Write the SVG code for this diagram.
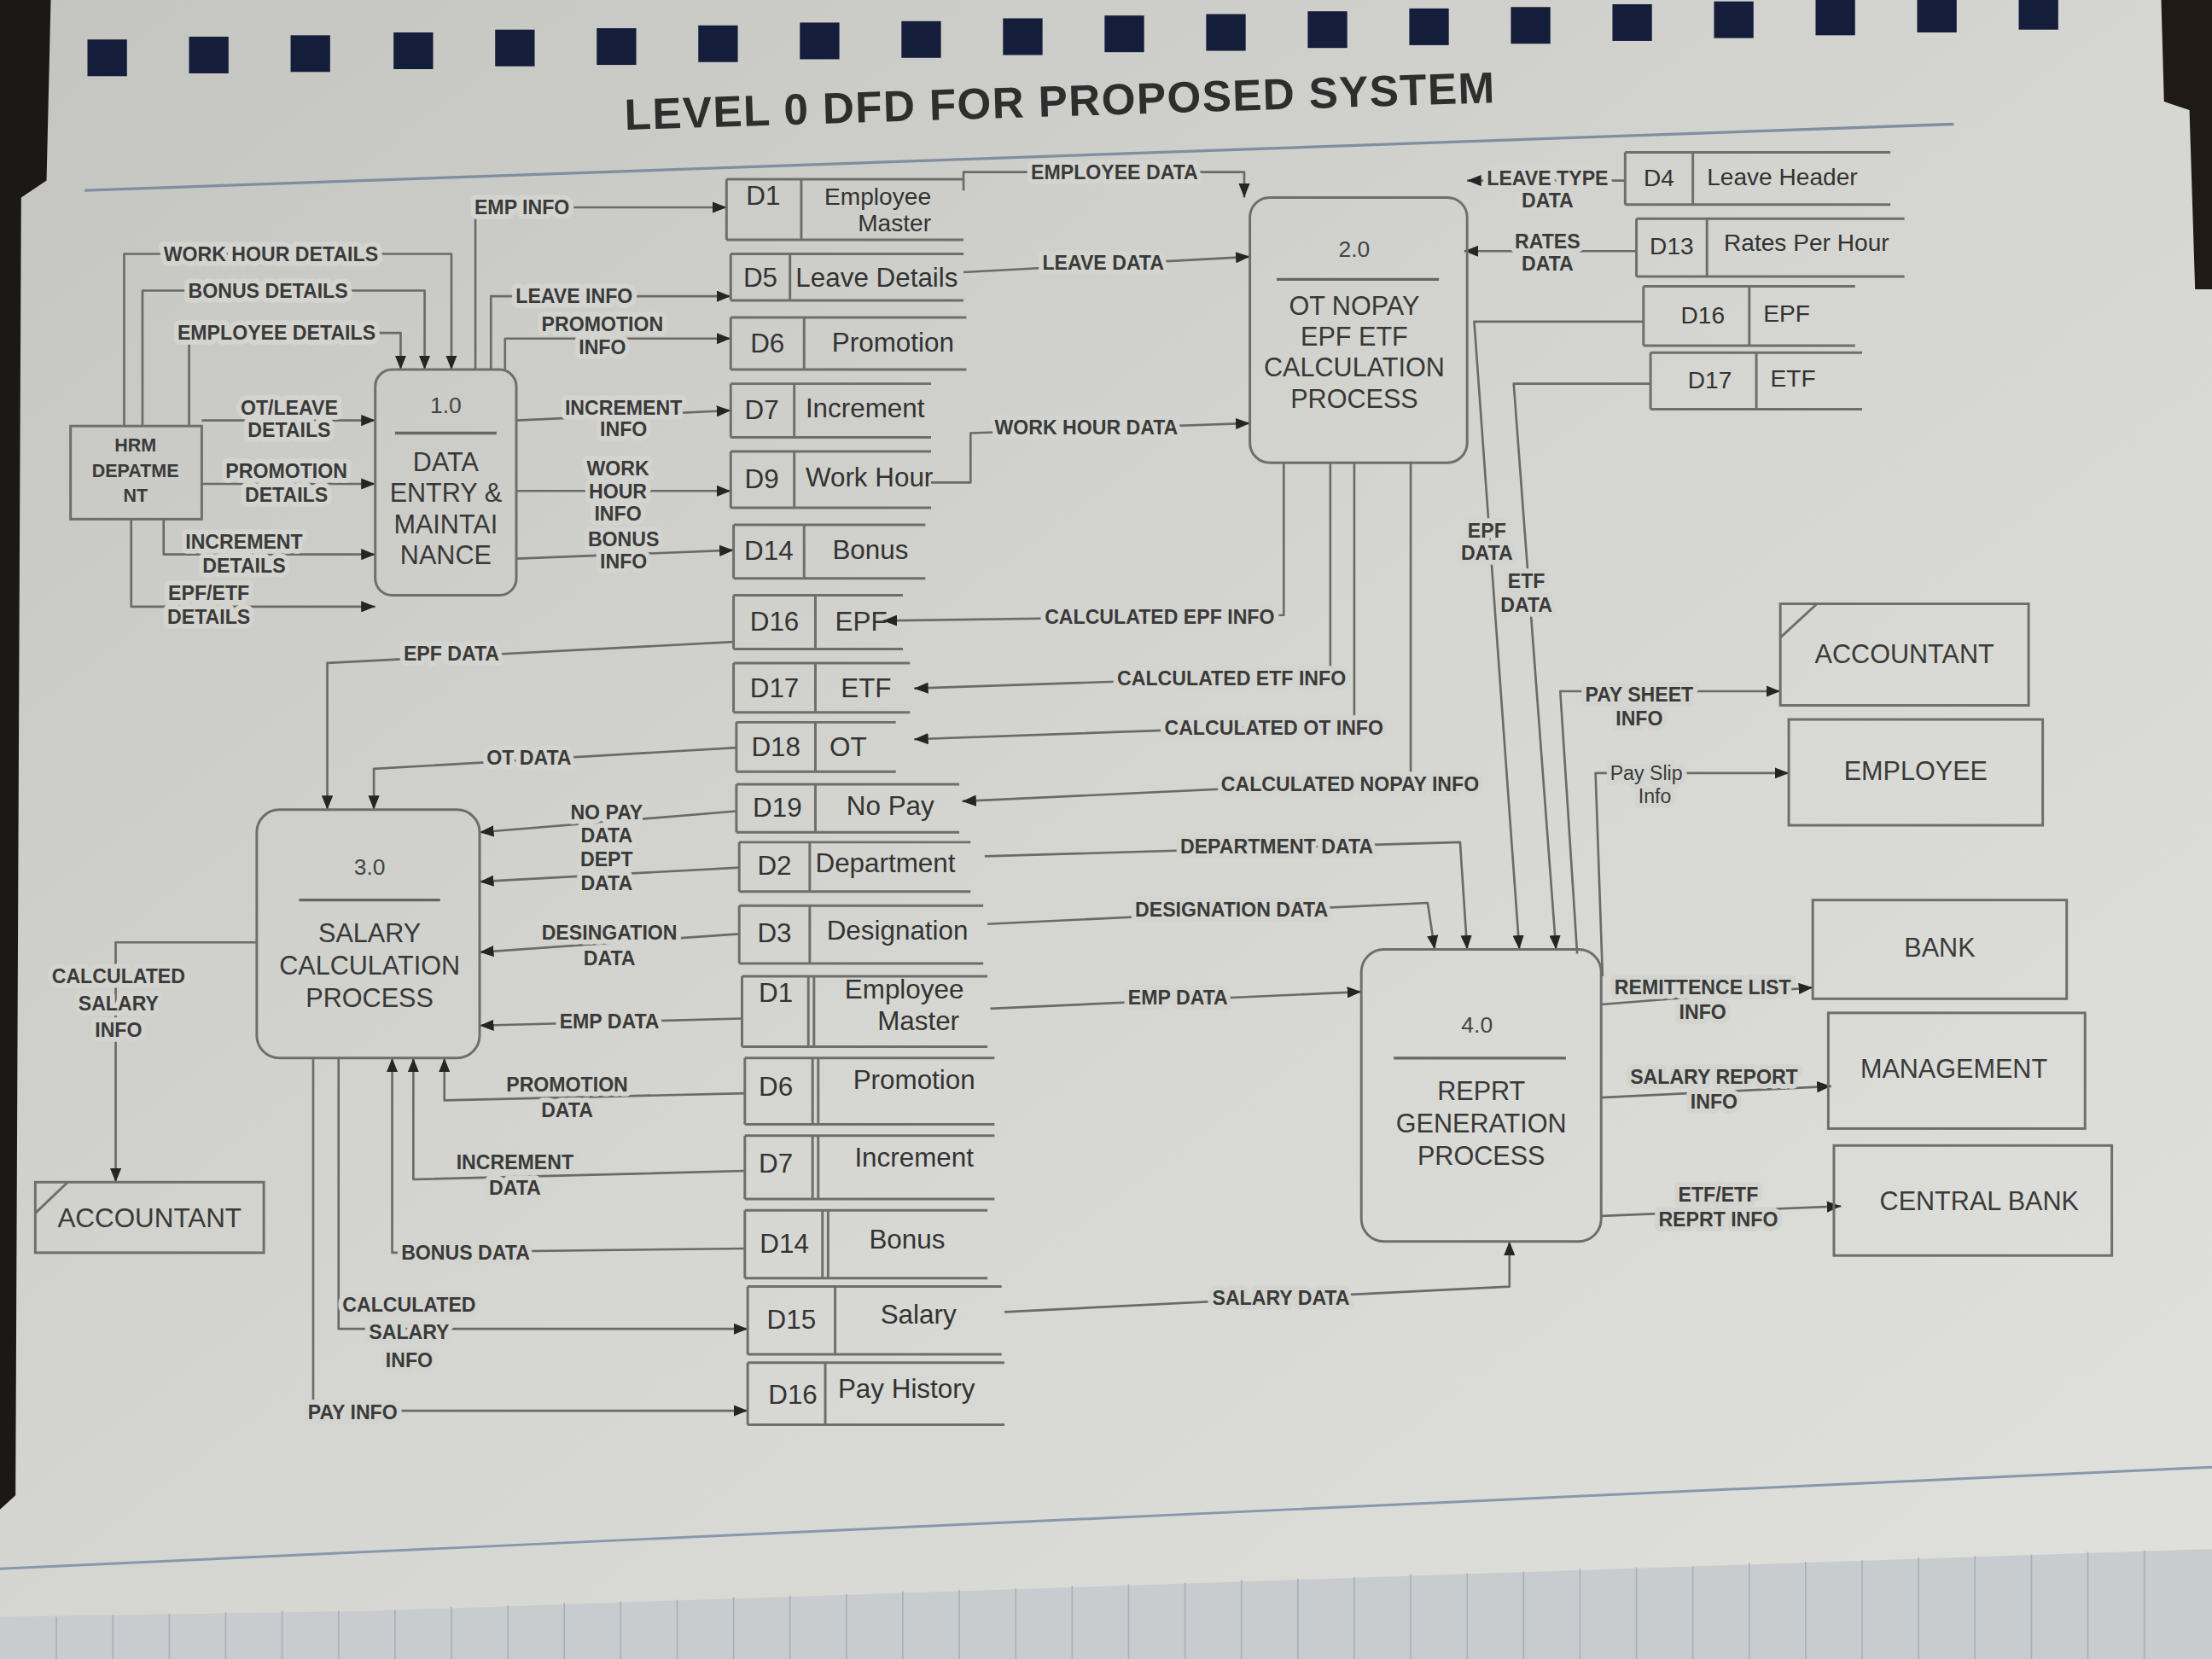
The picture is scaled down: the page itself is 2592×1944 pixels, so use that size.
<svg xmlns="http://www.w3.org/2000/svg" width="2592" height="1944" viewBox="0 0 2592 1944">
  <defs>
    <style>
      .ln { fill: none; stroke: #6a6a6a; stroke-width: 1.6; stroke-linejoin: round; }
      .bx { fill: none; stroke: #6e6e6e; stroke-width: 1.8; }
      .st { fill: none; stroke: #6e6e6e; stroke-width: 1.8; }
      .lbl { font-family: "Liberation Sans", Arial, sans-serif; font-size: 14px; font-weight: bold; fill: #3a3a3a; text-anchor: middle; stroke: #d3d4cf; stroke-width: 7; paint-order: stroke; stroke-linejoin: round; }
      .lbln { font-weight: normal; }
      .sid { font-family: "Liberation Sans", Arial, sans-serif; font-size: 19px; fill: #333; text-anchor: middle; }
      .snm { font-family: "Liberation Sans", Arial, sans-serif; font-size: 19px; fill: #333; }
      .rs { font-size: 17px; }
      .pn { font-family: "Liberation Sans", Arial, sans-serif; font-size: 16px; fill: #444; text-anchor: middle; }
      .pt { font-family: "Liberation Sans", Arial, sans-serif; font-size: 18.5px; fill: #383838; text-anchor: middle; }
      .et { font-family: "Liberation Sans", Arial, sans-serif; font-size: 18.5px; fill: #3a3a3a; text-anchor: middle; }
      .hrm { font-family: "Liberation Sans", Arial, sans-serif; font-size: 13px; font-weight: bold; fill: #3a3a3a; text-anchor: middle; }
      .sep { stroke: #666; stroke-width: 2; }
      .ttl { font-family: "Liberation Sans", Arial, sans-serif; font-size: 31px; font-weight: bold; fill: #2e2e2e; }
    </style>
    <marker id="ah" viewBox="0 0 10 8" refX="10" refY="4" markerWidth="10" markerHeight="8" orient="auto" markerUnits="userSpaceOnUse">
      <path d="M0,0 L10,4 L0,8 Z" fill="#252525"/>
    </marker>
    <linearGradient id="paper" x1="0" y1="0" x2="1" y2="1">
      <stop offset="0" stop-color="#c4c5c0"/>
      <stop offset="0.5" stop-color="#d5d6d1"/>
      <stop offset="1" stop-color="#e0e1dd"/>
    </linearGradient>
  </defs>

  <!-- drawing is laid out on a 1568 x 1176 grid and scaled up to the full canvas -->
  <g transform="scale(1.65306)">

    <!-- sheet, binding holes and page edges -->
    <g id="page">
      <rect width="1568" height="1176" fill="url(#paper)"/>
      <path d="M0,0 H36 L33,128 L15,140 L11,1060 L0,1070 Z" fill="#1c1815"/>
      <path d="M1532,0 H1568 V205 H1556 L1552,78 L1534,72 Z" fill="#1f1a16"/>
      <g fill="#141d3a">
        <rect x="62" y="28" width="28" height="26"/>
        <rect x="134" y="26" width="28" height="26"/>
        <rect x="206" y="25" width="28" height="26"/>
        <rect x="279" y="23" width="28" height="26"/>
        <rect x="351" y="21" width="28" height="26"/>
        <rect x="423" y="20" width="28" height="26"/>
        <rect x="495" y="18" width="28" height="26"/>
        <rect x="567" y="16" width="28" height="26"/>
        <rect x="639" y="15" width="28" height="26"/>
        <rect x="711" y="13" width="28" height="26"/>
        <rect x="783" y="11" width="28" height="26"/>
        <rect x="855" y="10" width="28" height="26"/>
        <rect x="927" y="8" width="28" height="26"/>
        <rect x="999" y="6" width="28" height="26"/>
        <rect x="1071" y="5" width="28" height="26"/>
        <rect x="1143" y="3" width="28" height="26"/>
        <rect x="1215" y="1" width="28" height="26"/>
        <rect x="1287" y="0" width="28" height="25"/>
        <rect x="1359" y="0" width="28" height="23"/>
        <rect x="1431" y="0" width="28" height="21"/>
      </g>
      <path d="M0,1112 L1568,1040" stroke="#8797ad" stroke-width="1.8" fill="none"/>
      <path d="M0,1146 L260,1142 L1568,1098 V1176 H0 Z" fill="#c8ccce"/>
      <g stroke="#a9b1b8" stroke-width="1">
        <path d="M40,1146 V1176 M80,1145 V1176 M120,1144 V1176 M160,1143 V1176 M200,1142 V1176 M240,1142 V1176 M280,1141 V1176 M320,1139 V1176 M360,1138 V1176 M400,1136 V1176 M440,1135 V1176 M480,1134 V1176 M520,1132 V1176 M560,1131 V1176 M600,1130 V1176 M640,1128 V1176 M680,1127 V1176 M720,1126 V1176 M760,1124 V1176 M800,1123 V1176 M840,1122 V1176 M880,1120 V1176 M920,1119 V1176 M960,1118 V1176 M1000,1116 V1176 M1040,1115 V1176 M1080,1114 V1176 M1120,1112 V1176 M1160,1111 V1176 M1200,1110 V1176 M1240,1108 V1176 M1280,1107 V1176 M1320,1106 V1176 M1360,1104 V1176 M1400,1103 V1176 M1440,1102 V1176 M1480,1100 V1176 M1520,1099 V1176"/>
      </g>
    </g>

    <!-- heading and rule -->
    <g id="title">
      <text class="ttl" x="443" y="92" transform="rotate(-1.8 443 92)" textLength="617">LEVEL 0 DFD FOR PROPOSED SYSTEM</text>
      <path d="M60,135 L1385,88" stroke="#7f8ea0" stroke-width="2" fill="none"/>
    </g>

    <!-- data flows -->
    <g id="connectors">
      <g class="ln" marker-end="url(#ah)">
        <path d="M88,302 V180 H320 V262"/>
        <path d="M101,302 V206 H301 V262"/>
        <path d="M134,302 V236 H284 V262"/>
        <path d="M143,298 H266"/>
        <path d="M143,343 H266"/>
        <path d="M116,368 V393 H266"/>
        <path d="M93,368 V430 H266"/>
        <path d="M337,262 V147 H515"/>
        <path d="M348,262 V210 H518"/>
        <path d="M358,262 V240 H518"/>
        <path d="M366,298 L518,291"/>
        <path d="M366,348 H518"/>
        <path d="M366,396 L520,390"/>
        <path d="M683,135 V122 H882 V140"/>
        <path d="M683,193 L886,182"/>
        <path d="M660,342 H688 V307 L886,300"/>
        <path d="M1152,128 H1040"/>
        <path d="M1160,178 H1038"/>
        <path d="M910,328 V436 L626,440"/>
        <path d="M943,328 V478 L648,488"/>
        <path d="M960,328 V513 L648,524"/>
        <path d="M1000,328 V553 L682,568"/>
        <path d="M520,455 L232,470 V574"/>
        <path d="M522,530 L265,545 V574"/>
        <path d="M522,575 L340,590"/>
        <path d="M524,615 L340,625"/>
        <path d="M524,662 L340,675"/>
        <path d="M526,722 L340,727"/>
        <path d="M528,775 L315,780 V750"/>
        <path d="M528,830 L293,836 V750"/>
        <path d="M528,885 L278,888 V750"/>
        <path d="M240,750 V942 H530"/>
        <path d="M222,750 V1000 H530"/>
        <path d="M182,668 H82 V838"/>
        <path d="M698,607 L1035,597 L1040,673"/>
        <path d="M700,655 L1012,640 L1017,673"/>
        <path d="M702,715 L965,703"/>
        <path d="M712,930 L1070,912 V880"/>
        <path d="M1165,228 H1045 L1077,673"/>
        <path d="M1170,272 H1073 L1103,673"/>
        <path d="M1118,676 L1106,490 H1262"/>
        <path d="M1136,692 L1131,548 H1268"/>
        <path d="M1135,712 L1285,700"/>
        <path d="M1135,778 L1298,770"/>
        <path d="M1135,862 L1305,855"/>
      </g>
      <g>
        <text class="lbl" x="192" y="185">WORK HOUR DETAILS</text>
        <text class="lbl" x="190" y="211">BONUS DETAILS</text>
        <text class="lbl" x="196" y="241">EMPLOYEE DETAILS</text>
        <text class="lbl" x="205" y="294">OT/LEAVE</text>
        <text class="lbl" x="205" y="310">DETAILS</text>
        <text class="lbl" x="203" y="339">PROMOTION</text>
        <text class="lbl" x="203" y="356">DETAILS</text>
        <text class="lbl" x="173" y="389">INCREMENT</text>
        <text class="lbl" x="173" y="406">DETAILS</text>
        <text class="lbl" x="148" y="425">EPF/ETF</text>
        <text class="lbl" x="148" y="442">DETAILS</text>
        <text class="lbl" x="370" y="152">EMP INFO</text>
        <text class="lbl" x="407" y="215">LEAVE INFO</text>
        <text class="lbl" x="427" y="235">PROMOTION</text>
        <text class="lbl" x="427" y="251">INFO</text>
        <text class="lbl" x="442" y="294">INCREMENT</text>
        <text class="lbl" x="442" y="309">INFO</text>
        <text class="lbl" x="438" y="337">WORK</text>
        <text class="lbl" x="438" y="353">HOUR</text>
        <text class="lbl" x="438" y="369">INFO</text>
        <text class="lbl" x="442" y="387">BONUS</text>
        <text class="lbl" x="442" y="403">INFO</text>
        <text class="lbl" x="790" y="127">EMPLOYEE DATA</text>
        <text class="lbl" x="782" y="191">LEAVE DATA</text>
        <text class="lbl" x="770" y="308">WORK HOUR DATA</text>
        <text class="lbl" x="1097" y="131">LEAVE TYPE</text>
        <text class="lbl" x="1097" y="147">DATA</text>
        <text class="lbl" x="1097" y="176">RATES</text>
        <text class="lbl" x="1097" y="192">DATA</text>
        <text class="lbl" x="822" y="442">CALCULATED EPF INFO</text>
        <text class="lbl" x="873" y="486">CALCULATED ETF  INFO</text>
        <text class="lbl" x="903" y="521">CALCULATED OT  INFO</text>
        <text class="lbl" x="957" y="561">CALCULATED NOPAY  INFO</text>
        <text class="lbl" x="320" y="468">EPF DATA</text>
        <text class="lbl" x="375" y="542">OT DATA</text>
        <text class="lbl" x="430" y="581">NO PAY</text>
        <text class="lbl" x="430" y="597">DATA</text>
        <text class="lbl" x="430" y="614">DEPT</text>
        <text class="lbl" x="430" y="631">DATA</text>
        <text class="lbl" x="432" y="666">DESINGATION</text>
        <text class="lbl" x="432" y="684">DATA</text>
        <text class="lbl" x="432" y="729">EMP DATA</text>
        <text class="lbl" x="402" y="774">PROMOTION</text>
        <text class="lbl" x="402" y="792">DATA</text>
        <text class="lbl" x="365" y="829">INCREMENT</text>
        <text class="lbl" x="365" y="847">DATA</text>
        <text class="lbl" x="330" y="893">BONUS DATA</text>
        <text class="lbl" x="290" y="930">CALCULATED</text>
        <text class="lbl" x="290" y="949">SALARY</text>
        <text class="lbl" x="290" y="969">INFO</text>
        <text class="lbl" x="250" y="1006">PAY INFO</text>
        <text class="lbl" x="84" y="697">CALCULATED</text>
        <text class="lbl" x="84" y="716">SALARY</text>
        <text class="lbl" x="84" y="735">INFO</text>
        <text class="lbl" x="905" y="605">DEPARTMENT DATA</text>
        <text class="lbl" x="873" y="650">DESIGNATION  DATA</text>
        <text class="lbl" x="835" y="712">EMP DATA</text>
        <text class="lbl" x="908" y="925">SALARY DATA</text>
        <text class="lbl" x="1054" y="381">EPF</text>
        <text class="lbl" x="1054" y="397">DATA</text>
        <text class="lbl" x="1082" y="417">ETF</text>
        <text class="lbl" x="1082" y="434">DATA</text>
        <text class="lbl" x="1162" y="497">PAY SHEET</text>
        <text class="lbl" x="1162" y="514">INFO</text>
        <text class="lbl lbln" x="1167" y="553">Pay Slip</text>
        <text class="lbl lbln" x="1173" y="569">Info</text>
        <text class="lbl" x="1207" y="705">REMITTENCE LIST</text>
        <text class="lbl" x="1207" y="722">INFO</text>
        <text class="lbl" x="1215" y="768">SALARY REPORT</text>
        <text class="lbl" x="1215" y="786">INFO</text>
        <text class="lbl" x="1218" y="852">ETF/ETF</text>
        <text class="lbl" x="1218" y="869">REPRT INFO</text>
      </g>
    </g>

    <!-- external entities -->
    <g id="hrm">
      <rect class="bx" x="50" y="302" width="93" height="66"/>
      <text class="hrm" x="96" y="320">HRM</text>
      <text class="hrm" x="96" y="338">DEPATME</text>
      <text class="hrm" x="96" y="356">NT</text>
    </g>
    <g id="accountant-right">
      <rect class="bx" x="1262" y="428" width="176" height="72"/>
      <path class="bx" d="M1262,452 L1288,428"/>
      <text class="et" x="1350" y="470">ACCOUNTANT</text>
    </g>
    <g id="employee">
      <rect class="bx" x="1268" y="510" width="180" height="75"/>
      <text class="et" x="1358" y="553">EMPLOYEE</text>
    </g>
    <g id="bank">
      <rect class="bx" x="1285" y="638" width="180" height="70"/>
      <text class="et" x="1375" y="678">BANK</text>
    </g>
    <g id="management">
      <rect class="bx" x="1296" y="718" width="182" height="82"/>
      <text class="et" x="1385" y="764">MANAGEMENT</text>
    </g>
    <g id="central-bank">
      <rect class="bx" x="1300" y="812" width="197" height="78"/>
      <text class="et" x="1403" y="858">CENTRAL BANK</text>
    </g>
    <g id="accountant-left">
      <rect class="bx" x="25" y="838" width="162" height="50"/>
      <path class="bx" d="M25,860 L48,838"/>
      <text class="et" x="106" y="870" style="font-size:19px">ACCOUNTANT</text>
    </g>

    <!-- processes -->
    <g id="p1">
      <rect class="bx" x="266" y="262" width="100" height="160" rx="12"/>
      <text class="pn" x="316" y="293">1.0</text>
      <path class="sep" d="M280,307 H352"/>
      <text class="pt" x="316" y="334">DATA</text>
      <text class="pt" x="316" y="356">ENTRY &amp;</text>
      <text class="pt" x="316" y="378">MAINTAI</text>
      <text class="pt" x="316" y="400">NANCE</text>
    </g>
    <g id="p2">
      <rect class="bx" x="886" y="140" width="154" height="188" rx="14"/>
      <text class="pn" x="960" y="182">2.0</text>
      <path class="sep" d="M905,198 H1020"/>
      <text class="pt" x="960" y="223">OT NOPAY</text>
      <text class="pt" x="960" y="245">EPF ETF</text>
      <text class="pt" x="960" y="267">CALCULATION</text>
      <text class="pt" x="960" y="289">PROCESS</text>
    </g>
    <g id="p3">
      <rect class="bx" x="182" y="574" width="158" height="176" rx="16"/>
      <text class="pn" x="262" y="620">3.0</text>
      <path class="sep" d="M212,638 H312"/>
      <text class="pt" x="262" y="668">SALARY</text>
      <text class="pt" x="262" y="691">CALCULATION</text>
      <text class="pt" x="262" y="714">PROCESS</text>
    </g>
    <g id="p4">
      <rect class="bx" x="965" y="673" width="170" height="207" rx="16"/>
      <text class="pn" x="1047" y="732">4.0</text>
      <path class="sep" d="M988,750 H1110"/>
      <text class="pt" x="1050" y="780">REPRT</text>
      <text class="pt" x="1050" y="803">GENERATION</text>
      <text class="pt" x="1050" y="826">PROCESS</text>
    </g>

    <!-- data stores -->
    <g id="d1-a">
      <path class="st" d="M515,127 H683 M515,170 H683 M515,127 V170 M568,127 V170"/>
      <text class="sid" x="541" y="145">D1</text>
      <text class="snm" x="660" y="145" text-anchor="end" style="font-size:17px">Employee</text>
      <text class="snm" x="660" y="164" text-anchor="end" style="font-size:17px">Master</text>
    </g>
    <g id="d5">
      <path class="st" d="M518,180 H683 M518,213 H683 M518,180 V213 M560,180 V213"/>
      <text class="sid" x="539" y="203">D5</text>
      <text class="snm" x="564" y="203">Leave Details</text>
    </g>
    <g id="d6-a">
      <path class="st" d="M518,225 H685 M518,262 H685 M518,225 V262 M570,225 V262"/>
      <text class="sid" x="544" y="250">D6</text>
      <text class="snm" x="633" y="249" text-anchor="middle">Promotion</text>
    </g>
    <g id="d7-a">
      <path class="st" d="M518,272 H660 M518,310 H660 M518,272 V310 M563,272 V310"/>
      <text class="sid" x="540" y="297">D7</text>
      <text class="snm" x="571" y="296">Increment</text>
    </g>
    <g id="d9">
      <path class="st" d="M518,320 H660 M518,360 H660 M518,320 V360 M563,320 V360"/>
      <text class="sid" x="540" y="346">D9</text>
      <text class="snm" x="571" y="345">Work Hour</text>
    </g>
    <g id="d14-a">
      <path class="st" d="M520,372 H656 M520,410 H656 M520,372 V410 M570,372 V410"/>
      <text class="sid" x="545" y="397">D14</text>
      <text class="snm" x="617" y="396" text-anchor="middle">Bonus</text>
    </g>
    <g id="d16-a">
      <path class="st" d="M520,422 H640 M520,460 H640 M520,422 V460 M578,422 V460"/>
      <text class="sid" x="549" y="447">D16</text>
      <text class="snm" x="592" y="447">EPF</text>
    </g>
    <g id="d17-a">
      <path class="st" d="M520,470 H645 M520,505 H645 M520,470 V505 M578,470 V505"/>
      <text class="sid" x="549" y="494">D17</text>
      <text class="snm" x="596" y="494">ETF</text>
    </g>
    <g id="d18">
      <path class="st" d="M522,512 H635 M522,547 H635 M522,512 V547 M578,512 V547"/>
      <text class="sid" x="550" y="536">D18</text>
      <text class="snm" x="588" y="536">OT</text>
    </g>
    <g id="d19">
      <path class="st" d="M522,556 H680 M522,590 H680 M522,556 V590 M578,556 V590"/>
      <text class="sid" x="551" y="579">D19</text>
      <text class="snm" x="600" y="578">No Pay</text>
    </g>
    <g id="d2">
      <path class="st" d="M524,597 H688 M524,632 H688 M524,597 V632 M574,597 V632"/>
      <text class="sid" x="549" y="620">D2</text>
      <text class="snm" x="578" y="618">Department</text>
    </g>
    <g id="d3">
      <path class="st" d="M524,642 H697 M524,683 H697 M524,642 V683 M574,642 V683"/>
      <text class="sid" x="549" y="668">D3</text>
      <text class="snm" x="586" y="666">Designation</text>
    </g>
    <g id="d1-b">
      <path class="st" d="M526,692 H700 M526,742 H700 M526,692 V742 M573,692 V742 M577,692 V742"/>
      <text class="sid" x="550" y="710">D1</text>
      <text class="snm" x="641" y="708" text-anchor="middle">Employee</text>
      <text class="snm" x="680" y="730" text-anchor="end">Master</text>
    </g>
    <g id="d6-b">
      <path class="st" d="M528,750 H705 M528,797 H705 M528,750 V797 M576,750 V797 M580,750 V797"/>
      <text class="sid" x="550" y="777">D6</text>
      <text class="snm" x="648" y="772" text-anchor="middle">Promotion</text>
    </g>
    <g id="d7-b">
      <path class="st" d="M528,805 H705 M528,850 H705 M528,805 V850 M576,805 V850 M580,805 V850"/>
      <text class="sid" x="550" y="831">D7</text>
      <text class="snm" x="648" y="827" text-anchor="middle">Increment</text>
    </g>
    <g id="d14-b">
      <path class="st" d="M528,858 H700 M528,906 H700 M528,858 V906 M583,858 V906 M587,858 V906"/>
      <text class="sid" x="556" y="888">D14</text>
      <text class="snm" x="643" y="885" text-anchor="middle">Bonus</text>
    </g>
    <g id="d15">
      <path class="st" d="M530,912 H710 M530,960 H710 M530,912 V960 M592,912 V960"/>
      <text class="sid" x="561" y="942">D15</text>
      <text class="snm" x="651" y="938" text-anchor="middle">Salary</text>
    </g>
    <g id="d16-b">
      <path class="st" d="M530,966 H712 M530,1010 H712 M530,966 V1010 M585,966 V1010"/>
      <text class="sid" x="562" y="995">D16</text>
      <text class="snm" x="594" y="991">Pay History</text>
    </g>
    <g id="d4">
      <path class="st" d="M1152,108 H1340 M1152,145 H1340 M1152,108 V145 M1200,108 V145"/>
      <text class="sid rs" x="1176" y="132">D4</text>
      <text class="snm rs" x="1210" y="131">Leave Header</text>
    </g>
    <g id="d13">
      <path class="st" d="M1160,155 H1350 M1160,196 H1350 M1160,155 V196 M1210,155 V196"/>
      <text class="sid rs" x="1185" y="180">D13</text>
      <text class="snm rs" x="1222" y="178">Rates Per Hour</text>
    </g>
    <g id="d16-c">
      <path class="st" d="M1165,203 H1315 M1165,245 H1315 M1165,203 V245 M1240,203 V245"/>
      <text class="sid rs" x="1207" y="229">D16</text>
      <text class="snm rs" x="1250" y="228">EPF</text>
    </g>
    <g id="d17-c">
      <path class="st" d="M1170,250 H1320 M1170,290 H1320 M1170,250 V290 M1245,250 V290"/>
      <text class="sid rs" x="1212" y="275">D17</text>
      <text class="snm rs" x="1255" y="274">ETF</text>
    </g>
  </g>
</svg>
